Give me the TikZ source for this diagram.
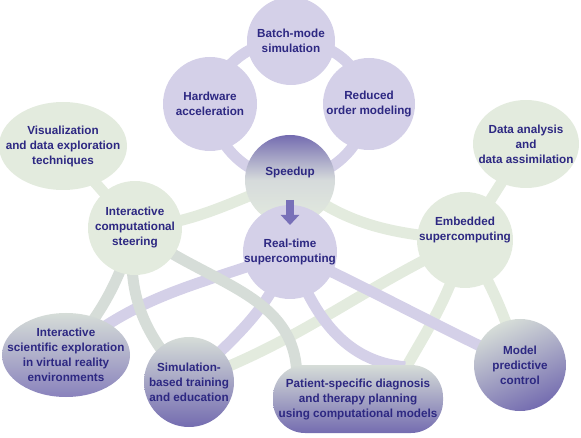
\documentclass[tikz,border=0pt]{standalone}
\usepackage{fontspec}
\setmainfont{Liberation Sans}
\usepackage{tikz}
\usetikzlibrary{backgrounds,shapes.geometric,arrows.meta}

\definecolor{lilac}{RGB}{212,208,232}
\definecolor{sage}{RGB}{227,235,222}
\definecolor{greysage}{RGB}{214,221,216}
\definecolor{deepviolet}{RGB}{116,108,176}
\definecolor{arrowviolet}{RGB}{120,112,184}
\definecolor{ink}{RGB}{45,40,130}

\begin{document}
\begin{tikzpicture}[x=1pt, y=1pt,
		every node/.style={font=\bfseries\fontsize{11.7}{15}\selectfont, text=ink, align=center, inner sep=0pt},
		blob/.style={circle, inner sep=-15pt, minimum size=#1},
		oval/.style n args={2}{ellipse, inner sep=-20pt, minimum width=#1, minimum height=#2},
		lilacfill/.style={fill=lilac},
		sagefill/.style={fill=sage},
		fade/.style={top color=greysage, bottom color=deepviolet},
		band/.style={line width=11pt, draw=#1}]
	\useasboundingbox (0,0) rectangle (581,-438);

	\path (291,-41) node[blob=88, lilacfill] (batch) {Batch-mode\\simulation}
		(210,-104) node[blob=94, lilacfill] (hardware) {Hardware\\acceleration}
		(369,-104) node[blob=92, lilacfill] (reduced) {Reduced\\order modeling}
		(290,-180) node[blob=90, top color=deepviolet, bottom color=sage, middle color=greysage!80!lilac, label={[yshift=8pt]center:Speedup}] (speedup) {}
		(290,-252) node[blob=94, lilacfill] (realtime) {Real-time\\supercomputing}
		(63,-146) node[oval={128}{88}, sagefill] (visual) {Visualization\\and data exploration\\techniques}
		(135,-228) node[blob=94, sagefill] (steering) {Interactive\\computational\\steering}
		(465,-240) node[blob=96, sagefill, label={[yshift=10pt]center:Embedded\\supercomputing}] (embedded) {}
		(526,-144) node[oval={106}{88}, sagefill] (data) {Data analysis\\and\\data assimilation}
		(66,-355) node[oval={128}{84}, fade, bottom color=deepviolet!85!white] (science) {Interactive\\scientific exploration\\in virtual reality\\environments}
		(189,-382) node[blob=90, fade] (simulation) {Simulation-\\based training\\and education}
		(358,-399) node[rectangle, rounded corners=32pt, minimum width=170, minimum height=68, fade] (patient) {Patient-specific diagnosis\\and therapy planning\\using computational models}
		(520,-365) node[blob=92, fade, shading angle=25] (model) {Model\\predictive\\control};

	\begin{scope}[on background layer]
		% embedded supercomputing spokes
		\draw[band=sage] (embedded.center) -- (data.center)
			(embedded.center) to[bend left=7] (model.center)
			(embedded.center) to[out=205, in=20] (simulation.center)
			(embedded.center) to[out=-105, in=60] ([xshift=-38pt, yshift=-4pt]patient.north east)
			(speedup.center) to[out=-40, in=175] (embedded.center);
		% speedup ring and real-time spokes
		\draw[band=lilac] (hardware.center) to[bend left=40] (batch.center)
			to[bend left=40] (reduced.center)
			to[bend left=40] (speedup.center)
			to[bend left=40] (hardware.center);
		\draw[band=lilac] (realtime.center) to[out=200, in=40] (science.center)
			(realtime.center) to[out=-110, in=45] (simulation.center)
			(realtime.center) to[out=-70, in=175] ([xshift=-38pt, yshift=-2pt]patient.north east)
			(realtime.center) to[out=-25, in=155] (model.center);
		% interactive steering spokes
		\draw[band=sage] (visual.center) -- (steering.center)
			(steering.center) to[out=5, in=200] (speedup.center);
		\draw[band=greysage] (steering.center) to[bend left=12] (science.center)
			(steering.center) to[out=-100, in=135] (simulation.center)
			(steering.center) to[out=-40, in=90] ([xshift=24pt, yshift=-12pt]patient.north west);
	\end{scope}

	\draw[line width=8pt, draw=arrowviolet, -{Triangle[width=18pt, length=10pt]}] ([yshift=-20pt]speedup.center) -- ([yshift=27pt]realtime.center);

\end{tikzpicture}
\end{document}
